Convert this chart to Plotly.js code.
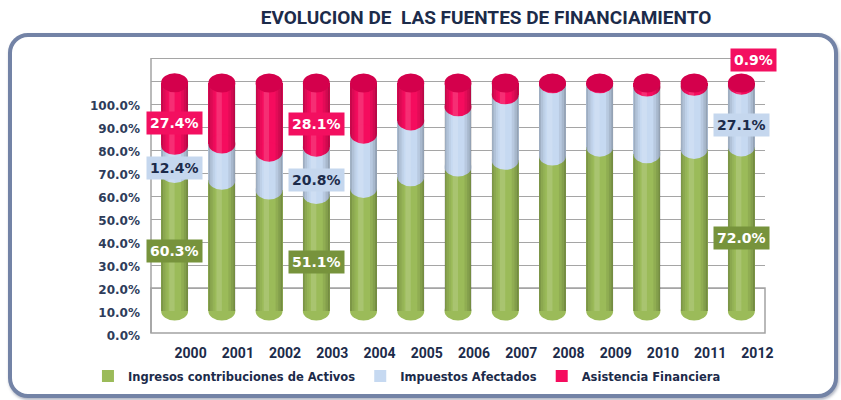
<!DOCTYPE html>
<html>
<head>
<meta charset="utf-8">
<script src="https://cdn.plot.ly/plotly-3.0.1.min.js"></script>
<style>
  html, body { margin: 0; padding: 0; background: #ffffff; }
  #wrap { position: relative; width: 841px; height: 400px; overflow: hidden; }
  #frame { position: absolute; left: 8px; top: 33px; width: 822px; height: 357px;
           border: 4px solid #7383a6; border-radius: 20px;
           box-shadow: 1px 2px 3px rgba(80,90,120,0.45); background: #ffffff; }
  #chart { position: absolute; left: 0; top: 0; width: 841px; height: 400px; }
</style>
</head>
<body>
<div id="wrap">
  <div id="frame"></div>
  <div id="chart"></div>
</div>
<script>
// ---- data ----
const years = ['2000','2001','2002','2003','2004','2005','2006','2007','2008','2009','2010','2011','2012'];
const ingresos   = [60.3, 57.4, 53.1, 51.1, 53.8, 58.9, 63.2, 66.1, 68.0, 71.9, 69.0, 70.9, 72.0];
const impuestos  = [12.4, 15.9, 16.6, 20.8, 23.8, 24.5, 26.4, 28.8, 31.7, 27.8, 29.3, 27.7, 27.1];
const asistencia = [27.4, 26.7, 30.3, 28.1, 22.4, 16.6, 10.4,  5.1,  0.3,  0.3,  1.7,  1.4,  0.9];
const seriesNames = ['Ingresos contribuciones de Activos', 'Impuestos Afectados', 'Asistencia Financiera'];
const tickValues = [0, 10, 20, 30, 40, 50, 60, 70, 80, 90, 100];
const tickLabels = tickValues.map(v => v.toFixed(1) + '%');
const labeledYears = ['2000', '2003', '2012'];

// ---- styles ----
const GREEN = '#9bbb59', BLUE = '#c6d9f1', MAGENTA = '#f50c5e', CAP = '#d4004c';
const NAVY = '#1c2b4a';
const BAR_W = 0.57;
const ELL = 4.2; // half-height of cylinder ellipses, in axis units
const PL = 151, PR = 764.6, PT = 55, PB = 333; // plot area in pixels
const px2x = p => (p - PL) / (PR - PL);
const px2y = p => (PB - p) / (PB - PT);
// cylinder shading strips: [from, to] as fraction of the bar width, colour
const SHADE = [
  [0.00, 0.07, 'rgba(0,0,0,0.20)'], [0.07, 0.16, 'rgba(0,0,0,0.10)'], [0.16, 0.24, 'rgba(0,0,0,0.04)'],
  [0.30, 0.50, 'rgba(255,255,255,0.14)'],
  [0.74, 0.84, 'rgba(0,0,0,0.07)'], [0.84, 0.93, 'rgba(0,0,0,0.15)'], [0.93, 1.00, 'rgba(0,0,0,0.25)']
];

const series = [ingresos, impuestos, asistencia];
const colors = [GREEN, BLUE, MAGENTA];

// carrier for the back-wall axis (draws nothing)
const traces = [{ type: 'scatter', mode: 'none', x: [years[0]], y: [0], xaxis: 'x', yaxis: 'y',
  showlegend: false, hoverinfo: 'skip' }];
series.forEach((vals, k) => traces.push({
  type: 'bar', x: years, y: vals, name: seriesNames[k],
  xaxis: 'x', yaxis: 'y2', width: BAR_W,
  marker: { color: colors[k], line: { width: 0 } },
  hoverinfo: 'skip'
}));

const shapes = [];
// floor and left wall
shapes.push({ type: 'rect', xref: 'x domain', yref: 'y domain', x0: 0, x1: 1, y0: 0, y1: 45/278,
  fillcolor: '#ffffff', line: { color: '#a3a3a3', width: 1.5 }, layer: 'below' });
shapes.push({ type: 'line', xref: 'x domain', yref: 'y domain', x0: 0, x1: 0, y0: 0, y1: 275/278,
  line: { color: '#a3a3a3', width: 1.5 }, layer: 'below' });

years.forEach((yr, i) => {
  const xl = i - BAR_W / 2, xr = i + BAR_W / 2;
  const c1 = ingresos[i], c2 = c1 + impuestos[i], c3 = c2 + asistencia[i];
  const ell = (c, col) => ({ type: 'circle', xref: 'x', yref: 'y2', x0: xl, x1: xr,
    y0: c - ELL, y1: c + ELL, fillcolor: col, line: { width: 0 }, layer: 'above' });
  shapes.push(ell(0, GREEN));
  shapes.push(ell(c1, BLUE));
  shapes.push(ell(c2, MAGENTA));
  SHADE.forEach(([f0, f1, col]) => shapes.push({ type: 'rect', xref: 'x', yref: 'y2',
    x0: xl + f0 * BAR_W, x1: xl + f1 * BAR_W, y0: 0, y1: c3,
    fillcolor: col, line: { width: 0 }, layer: 'above' }));
  shapes.push(ell(c3, CAP));
});

const annotations = [];
const labelStyle = [
  { bg: '#77933c', fg: '#ffffff' },
  { bg: '#c5d7ee', fg: NAVY },
  { bg: '#f30f60', fg: '#ffffff' }
];
labeledYears.forEach(yr => {
  const i = years.indexOf(yr);
  let base = 0;
  series.forEach((vals, k) => {
    const v = vals[i];
    const small = v < 3;
    annotations.push({
      x: i, y: small ? base + v : base + v / 2, xref: 'x', yref: 'y2',
      text: '<b>' + v.toFixed(1) + '%</b>', showarrow: false,
      bgcolor: labelStyle[k].bg, borderpad: 3,
      font: { family: 'DejaVu Sans', size: 14, color: labelStyle[k].fg },
      yshift: small ? 23 : -9, xshift: small ? 12 : 0
    });
    base += v;
  });
});

const layout = {
  width: 841, height: 400,
  margin: { l: PL, r: 841 - PR, t: PT, b: 400 - PB, pad: 0, autoexpand: false },
  paper_bgcolor: 'rgba(0,0,0,0)', plot_bgcolor: 'rgba(0,0,0,0)',
  title: { text: 'EVOLUCION DE\u00a0 LAS FUENTES DE FINANCIAMIENTO',
    x: 486/841, xanchor: 'center', xref: 'container', y: 1 - 17/400, yanchor: 'middle', yref: 'container',
    font: { family: 'Roboto', size: 19, weight: 'bold', color: NAVY } },
  barmode: 'stack',
  showlegend: true,
  legend: { orientation: 'h', x: px2x(88), xanchor: 'left', y: px2y(376), yanchor: 'middle',
    traceorder: 'normal', font: { family: 'DejaVu Sans', size: 11.5, weight: 'bold', color: NAVY },
    bgcolor: 'rgba(0,0,0,0)' },
  xaxis: { type: 'category', categoryorder: 'array', categoryarray: years, range: [-0.5, 12.5],
    showgrid: false, zeroline: false, showline: false, ticks: '',
    ticklabelshift: 16, ticklabelstandoff: 10,
    tickfont: { family: 'Roboto', size: 14, weight: 'bold', color: NAVY }, fixedrange: true },
  yaxis: { range: [-19.43, 101.44], tickvals: tickValues, ticktext: tickLabels,
    showgrid: true, gridcolor: '#a5a5a5', gridwidth: 1.5, zeroline: false, showline: false, ticks: '',
    ticklabelshift: 47, ticklabelstandoff: 10,
    tickfont: { family: 'DejaVu Sans', size: 12, weight: 'bold', color: '#2e3c5a' }, fixedrange: true },
  yaxis2: { overlaying: 'y', range: [-9.65, 112.28], showgrid: false, zeroline: false,
    showline: false, showticklabels: false, ticks: '', fixedrange: true },
  shapes: shapes,
  annotations: annotations
};

Plotly.newPlot('chart', traces, layout, { displayModeBar: false, staticPlot: true });
</script>
</body>
</html>
